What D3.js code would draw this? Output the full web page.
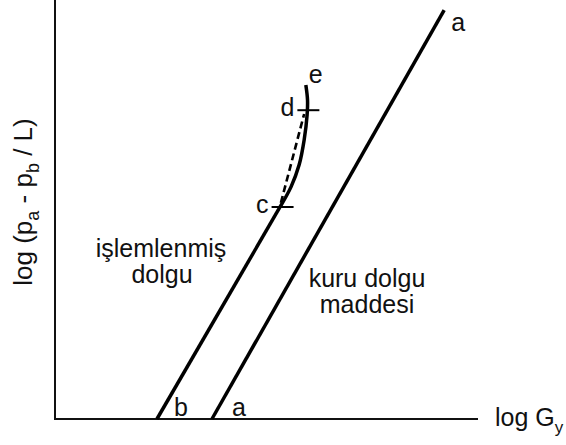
<!DOCTYPE html>
<html>
<head>
<meta charset="utf-8">
<script src="https://cdn.jsdelivr.net/npm/d3@7"></script>
<style>
  html, body { margin: 0; padding: 0; background: #fff; }
  svg { display: block; }
  text { font-family: Arial, "Liberation Sans", sans-serif; fill: #111; }
</style>
</head>
<body>
<div id="chart"></div>
<script>
// Schematic: pressure drop vs. gas flow (log-log), dry vs. irrigated packing
const xDomain = [0, 100];
const yDomain = [0, 100];

// Dry packing line (a–a)
const dryLine = [[37.1, 0], [92.0, 97.6]];
// Irrigated packing: straight part (b–c)
const wetLine = [[24.1, 0], [53.2, 50.6]];
// Irrigated packing: loading / flooding bend (c–e)
const wetBend = [[53.2, 50.6], [55.8, 55.4], [57.7, 60.6], [58.9, 66.6],
                 [59.6, 72.6], [59.7, 76.1], [59.3, 79.7]];
// Dashed extrapolation c–d
const dashedLine = [[53.4, 51.6], [58.9, 72.8]];
// Marked points on the irrigated curve
const markNames = ["c", "d"];
const markX = [53.8, 59.9];
const markY = [50.6, 73.7];

const W = 566, H = 445;
const x = d3.scaleLinear().domain(xDomain).range([55, 478]);
const y = d3.scaleLinear().domain(yDomain).range([419, 0]);

const svg = d3.select("#chart").append("svg")
  .attr("width", W).attr("height", H);

const line = d3.line().x(d => x(d[0])).y(d => y(d[1]));
const bend = d3.line().x(d => x(d[0])).y(d => y(d[1])).curve(d3.curveCatmullRom);

// axes (no ticks)
svg.append("line").attr("x1", x(0)).attr("x2", x(0)).attr("y1", y(100)).attr("y2", y(0))
  .attr("stroke", "#111").attr("stroke-width", 2);
svg.append("line").attr("x1", x(0) - 1).attr("x2", x(100)).attr("y1", y(0)).attr("y2", y(0))
  .attr("stroke", "#111").attr("stroke-width", 2);

// data lines
svg.append("path").attr("d", line(dryLine)).attr("fill", "none")
  .attr("stroke", "#000").attr("stroke-width", 3.5);
svg.append("path").attr("d", line(wetLine)).attr("fill", "none")
  .attr("stroke", "#000").attr("stroke-width", 3.5);
svg.append("path").attr("d", bend(wetBend)).attr("fill", "none")
  .attr("stroke", "#000").attr("stroke-width", 3.5);
svg.append("path").attr("d", line(dashedLine)).attr("fill", "none")
  .attr("stroke", "#000").attr("stroke-width", 2.6).attr("stroke-dasharray", "7,4");

// tick marks at c and d
markNames.forEach((n, i) => {
  svg.append("line")
    .attr("x1", x(markX[i]) - 11).attr("x2", x(markX[i]) + 11)
    .attr("y1", y(markY[i])).attr("y2", y(markY[i]))
    .attr("stroke", "#000").attr("stroke-width", 2);
});

const fs = 25;
function label(txt, px, py, anchor) {
  return svg.append("text").attr("x", px).attr("y", py)
    .attr("font-size", fs).attr("text-anchor", anchor || "start").text(txt);
}

// point letters
label("c", x(markX[0]) - 14, y(markY[0]) + 6, "end");
label("d", x(markX[1]) - 14, y(markY[1]) + 6, "end");
label("e", x(wetBend[wetBend.length - 1][0]) + 3, y(wetBend[wetBend.length - 1][1]) - 2);
label("a", x(dryLine[1][0]) + 7, y(dryLine[1][1]) + 21);
label("b", x(wetLine[0][0]) + 17, y(0) - 3);
label("a", x(dryLine[0][0]) + 20, y(0) - 3);

// curve names
label("işlemlenmiş", 161, 257, "middle");
label("dolgu", 162, 283, "middle");
label("kuru dolgu", 367, 287, "middle");
label("maddesi", 367, 313, "middle");

// x-axis title
const xt = svg.append("text").attr("x", 495).attr("y", 426).attr("font-size", fs);
xt.append("tspan").text("log G");
xt.append("tspan").attr("dy", 7).attr("font-size", 17).text("y");

// y-axis title
const yt = svg.append("text").attr("transform", "translate(32,202) rotate(-90)")
  .attr("text-anchor", "middle").attr("font-size", 26);
yt.append("tspan").text("log (p");
yt.append("tspan").attr("dy", 7).attr("font-size", 18).text("a");
yt.append("tspan").attr("dy", -7).text(" - p");
yt.append("tspan").attr("dy", 7).attr("font-size", 18).text("b");
yt.append("tspan").attr("dy", -7).text(" / L)");
</script>
</body>
</html>
